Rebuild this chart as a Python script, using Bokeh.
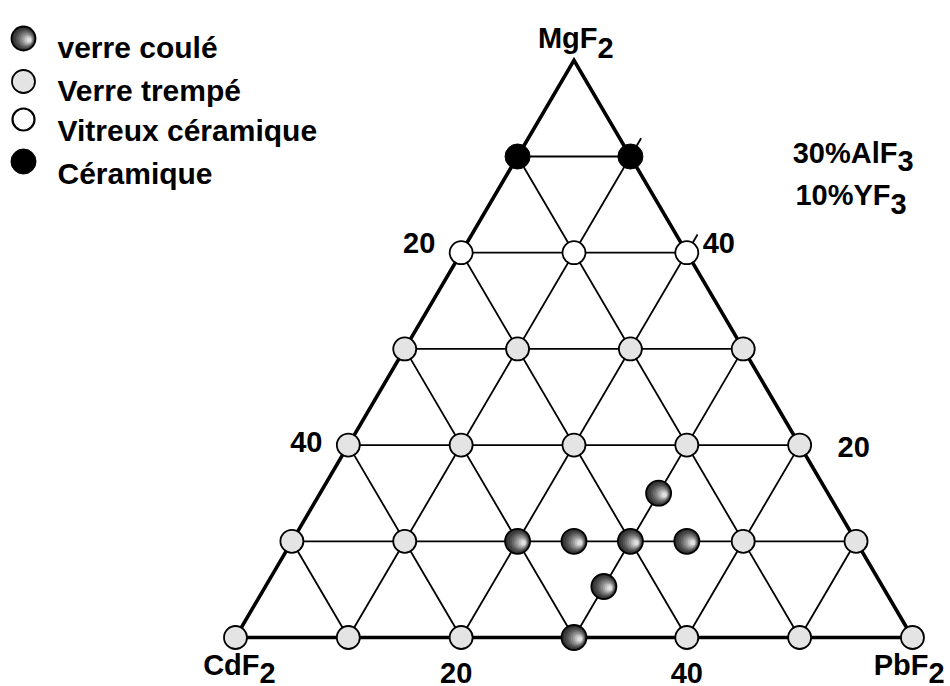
import numpy as np
from bokeh.plotting import figure
from bokeh.models import Range1d
from bokeh.core.properties import value
from bokeh.embed import file_html
from bokeh.resources import INLINE

# ---------------- data ----------------
TOTAL = 60                      # CdF2 + PbF2 + MgF2 (AlF3 30 %, YF3 10 % fixed)
grid_steps = [10, 20, 30, 40, 50]

# compositions given as (PbF2 %, MgF2 %); CdF2 = 60 - PbF2 - MgF2
coule_pb = [30, 30, 20, 25, 30, 35, 30]
coule_mg = [0, 5.3, 10, 10, 10, 10, 15]
trempe_pb = [0, 10, 20, 40, 50, 60, 0, 10, 40, 50, 0, 10, 20, 30, 40, 0, 10, 20, 30]
trempe_mg = [0, 0, 0, 0, 0, 0, 10, 10, 10, 10, 20, 20, 20, 20, 20, 30, 30, 30, 30]
vitro_pb = [0, 10, 20]
vitro_mg = [40, 40, 40]
ceram_pb = [0, 10]
ceram_mg = [50, 50]

legend_labels = ["verre coulé", "Verre trempé", "Vitreux céramique", "Céramique"]

vertex_main = ["CdF", "PbF", "MgF"]
vertex_sub = ["2", "2", "2"]
vertex_pb = [0, 60, 0]
vertex_mg = [0, 0, 60]

fixed_main = ["30%AlF", "10%YF"]
fixed_sub = ["3", "3"]

left_ticks = [20, 40]     # CdF2 values on the left edge
right_ticks = [40, 20]    # MgF2 values on the right edge
bottom_ticks = [20, 40]   # PbF2 values on the bottom edge
edge_marks_mg = [50, 40]  # small marks crossing the right edge

# ---------------- geometry / style ----------------
W, H = 950, 686
PX0, PY0 = 235.0, 637.0   # canvas position of the CdF2 vertex
SX, SY = 11.283, 9.62     # px per % along X and along MgF2

FONT = value("Liberation Sans")
FS = "29px"


def tern(pb, mg):
    pb = np.asarray(pb, dtype=float)
    mg = np.asarray(mg, dtype=float)
    return pb + mg / 2.0, mg


def px2data(fx, fy):
    fx = np.asarray(fx, dtype=float)
    fy = np.asarray(fy, dtype=float)
    return (fx - PX0) / SX, (PY0 - fy) / SY


p = figure(width=W, height=H, output_backend="svg", toolbar_location=None,
           x_range=Range1d(-PX0 / SX, (W - PX0) / SX),
           y_range=Range1d((PY0 - H) / SY, PY0 / SY),
           min_border=0, outline_line_color=None)
p.axis.visible = False
p.grid.visible = False
p.background_fill_color = "white"
p.border_fill_color = "white"

# inner grid lines
xs, ys = [], []
for k in grid_steps:
    # MgF2 = k
    x0, y0 = tern(0, k); x1, y1 = tern(TOTAL - k, k)
    xs.append([float(x0), float(x1)]); ys.append([float(y0), float(y1)])
    # PbF2 = k
    x0, y0 = tern(k, 0); x1, y1 = tern(k, TOTAL - k)
    xs.append([float(x0), float(x1)]); ys.append([float(y0), float(y1)])
    # CdF2 = k
    x0, y0 = tern(TOTAL - k, 0); x1, y1 = tern(0, TOTAL - k)
    xs.append([float(x0), float(x1)]); ys.append([float(y0), float(y1)])
p.multi_line(xs, ys, line_color="black", line_width=1.8)

# small marks on the right edge
mxs, mys = [], []
for m in edge_marks_mg:
    x0, y0 = tern(TOTAL - m, m); x1, y1 = tern(TOTAL - m, m + 1.9)
    mxs.append([float(x0), float(x1)]); mys.append([float(y0), float(y1)])
p.multi_line(mxs, mys, line_color="black", line_width=1.8)

# outer triangle
tx, ty = tern(vertex_pb, vertex_mg)
p.patch(list(tx), list(ty), fill_color=None, line_color="black",
        line_width=3.6, line_join="miter")


def sphere(X, Y, D):
    X = np.asarray(X, dtype=float); Y = np.asarray(Y, dtype=float)
    N = 8
    for j in range(N):
        t = j / (N - 1)
        d = D * (1 - 0.8 * t)
        ox = t * 0.45 * D / 2
        oy = t * 0.12 * D / 2
        g = int(0x30 + (t ** 1.3) * (0xe0 - 0x30))
        col = "#%02x%02x%02x" % (g, g, g)
        p.scatter(list(X + ox / SX), list(Y - oy / SY), size=d,
                  fill_color=col, line_color=None)
    p.scatter(list(X), list(Y), size=D, fill_color=None,
              line_color="black", line_width=1.8)


# points
gx, gy = tern(trempe_pb, trempe_mg)
p.scatter(list(gx), list(gy), size=23, fill_color="#e4e4e4",
          line_color="black", line_width=1.8)
vx, vy = tern(vitro_pb, vitro_mg)
p.scatter(list(vx), list(vy), size=23, fill_color="white",
          line_color="black", line_width=1.8)
cx, cy = tern(ceram_pb, ceram_mg)
p.scatter(list(cx), list(cy), size=25, fill_color="black",
          line_color="black", line_width=1.0)
sx_, sy_ = tern(coule_pb, coule_mg)
sphere(sx_, sy_, 25)

# legend (drawn by hand)
leg_mx, leg_my = px2data([23, 23, 23, 23], [38, 81, 119, 161])
sphere([leg_mx[0]], [leg_my[0]], 24)
p.scatter([leg_mx[1]], [leg_my[1]], size=23, fill_color="#e4e4e4",
          line_color="black", line_width=1.8)
p.scatter([leg_mx[2]], [leg_my[2]], size=22, fill_color="white",
          line_color="black", line_width=2.2)
p.scatter([leg_mx[3]], [leg_my[3]], size=25, fill_color="black",
          line_color="black", line_width=1.0)
leg_tx, leg_ty = px2data([57, 57, 57, 57], [47, 90, 130, 173])
p.text(list(leg_tx), list(leg_ty), text=legend_labels, text_font=FONT,
       text_font_style="bold", text_font_size="30px", text_align="left",
       text_baseline="alphabetic", text_color="black")

# vertex labels (main text right-aligned, subscript left-aligned)
vx_, vy_ = tern(vertex_pb, vertex_mg)
v_dx = [24, 16, 23.5]
v_dy = [27, 27, -22]
v_sub_dy = [35, 35, -12]
p.text(list(vx_), list(vy_), text=vertex_main, x_offset=v_dx, y_offset=v_dy,
       text_font=FONT, text_font_style="bold", text_font_size=FS,
       text_align="right", text_baseline="alphabetic", text_color="black")
p.text(list(vx_), list(vy_), text=vertex_sub, x_offset=v_dx,
       y_offset=v_sub_dy,
       text_font=FONT, text_font_style="bold", text_font_size=FS,
       text_align="left", text_baseline="alphabetic", text_color="black")

# fixed components text
fx_, fy_ = px2data([897, 890], [152, 194])
p.text(list(fx_), list(fy_), text=fixed_main, text_font=FONT,
       text_font_style="bold", text_font_size=FS, text_align="right",
       text_baseline="alphabetic", text_color="black")
p.text(list(fx_), list(fy_), text=fixed_sub, y_offset=[8, 9], text_font=FONT,
       text_font_style="bold", text_font_size=FS, text_align="left",
       text_baseline="alphabetic", text_color="black")

# tick labels
lx, ly = tern([0] * len(left_ticks), [TOTAL - c for c in left_ticks])
rx, ry = tern([TOTAL - m for m in right_ticks], right_ticks)
bx, by = tern(bottom_ticks, [0] * len(bottom_ticks))
tick_x = list(lx) + list(rx) + list(bx)
tick_y = list(ly) + list(ry) + list(by)
tick_txt = [str(v) for v in left_ticks + right_ticks + bottom_ticks]
tick_dx = [-42, -42, 32, 54, -5, 0]
tick_dy = [-10, -3, -10, 2, 35, 35]
p.text(tick_x, tick_y, text=tick_txt, x_offset=tick_dx, y_offset=tick_dy,
       text_font=FONT, text_font_style="bold", text_font_size=FS,
       text_align="center", text_baseline="alphabetic", text_color="black")

open("out.html", "w").write(file_html(p, INLINE))
